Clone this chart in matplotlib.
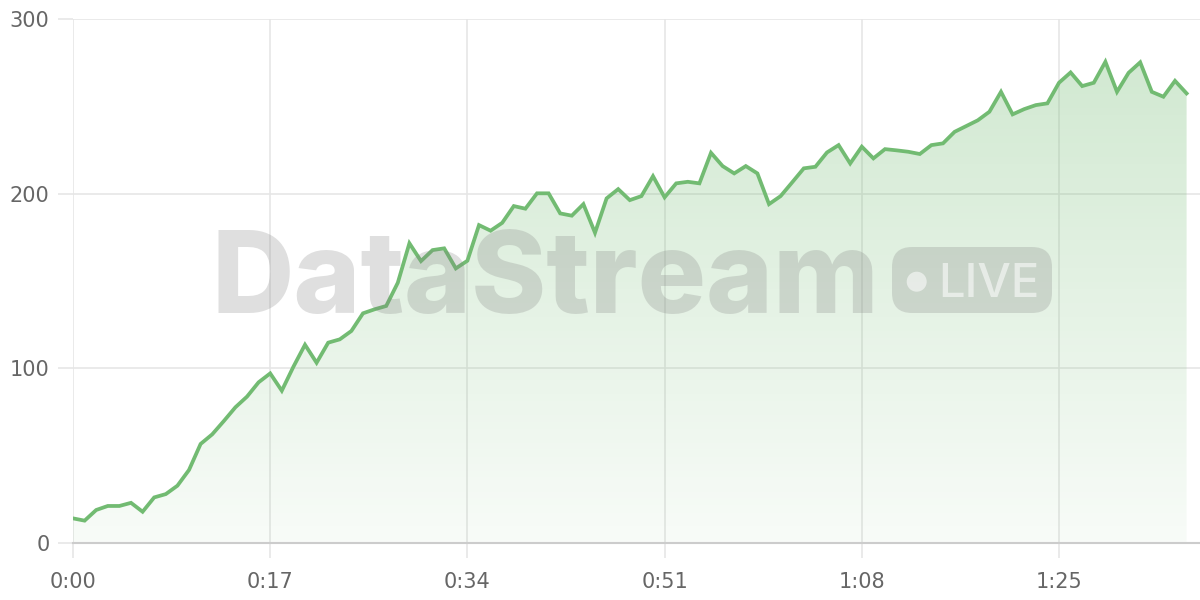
import numpy as np
import matplotlib
matplotlib.use("Agg")
import matplotlib.pyplot as plt
from matplotlib.patches import FancyBboxPatch, Circle
from matplotlib.ticker import FuncFormatter

# values, one per second
seconds = np.arange(0, 97)
values = [
    14.1, 12.8, 18.9, 21.2, 21.2, 23.0, 17.9, 26.1, 28.0, 32.8,
    41.8, 56.7, 62.2, 69.8, 77.7, 83.8, 92.0, 97.1, 87.2, 100.9,
    113.5, 103.2, 114.7, 116.6, 121.4, 131.5, 133.8, 135.7, 149.0, 171.6,
    161.4, 167.7, 168.7, 157.2, 161.6, 182.0, 178.8, 183.3, 192.9, 191.4,
    200.2, 200.2, 188.7, 187.4, 194.0, 177.6, 197.3, 202.6, 196.3, 198.6,
    210.0, 197.9, 205.9, 206.8, 205.9, 223.4, 215.8, 211.6, 215.8, 211.6,
    194.0, 198.6, 206.5, 214.5, 215.4, 223.6, 227.8, 217.3, 226.9, 220.2,
    225.5, 224.8, 224.0, 222.7, 227.8, 228.8, 235.4, 238.7, 242.0, 246.9,
    258.3, 245.4, 248.4, 250.7, 251.7, 263.5, 269.4, 261.6, 263.5, 275.5,
    258.3, 269.2, 275.2, 258.3, 255.5, 264.6, 257.4,
]
x_ticks = [0, 17, 34, 51, 68, 85]
y_ticks = [0, 100, 200, 300]

line_color = "#72bb72"
grid_color = "#e6e6e6"
label_color = "#666666"

fig = plt.figure(figsize=(12, 6), dpi=100)
ax = fig.add_axes([73 / 1200, 57 / 600, 1127 / 1200, 524 / 600])
ax.set_xlim(0, 1127 / 11.6)
ax.set_ylim(0, 300)

# gradient fill under the line
poly = ax.fill_between(seconds, values, 0, color="none", lw=0)
ymax = max(values)
grad = np.zeros((256, 1, 4))
grad[:, 0, 0] = 0.44
grad[:, 0, 1] = 0.73
grad[:, 0, 2] = 0.44
grad[:, 0, 3] = np.linspace(0.32, 0.05, 256)
img = ax.imshow(grad, aspect="auto", extent=[seconds[0], seconds[-1], 0, ymax],
                origin="upper", zorder=1)
img.set_clip_path(poly.get_paths()[0], transform=ax.transData)

ax.plot(seconds, values, color=line_color, lw=2.7, zorder=4,
        solid_joinstyle="miter")

# watermark
wm = (0.5, 0.5, 0.5, 0.25)
fig.text(211 / 1200, (600 - 313) / 600, "DataStream", fontsize=82,
         family=["Inter", "DejaVu Sans"], weight="heavy", color=wm,
         ha="left", va="baseline", zorder=3)
pill = FancyBboxPatch((8.92, 2.87), 1.60, 0.66,
                      boxstyle="round,pad=0,rounding_size=0.2",
                      transform=fig.dpi_scale_trans, fc=wm, ec="none", zorder=3)
fig.patches.append(pill)
dot = Circle((9.167, 3.183), 0.10, transform=fig.dpi_scale_trans,
             fc=(1, 1, 1, 0.55), ec="none", zorder=3)
fig.patches.append(dot)
fig.text(9.38 / 12, 3.03 / 6, "LIVE", fontsize=34,
         family=["Inter", "DejaVu Sans"], weight="medium",
         color=(1, 1, 1, 0.55), ha="left", va="baseline", zorder=3)

# axes styling
for s in ["top", "right", "left"]:
    ax.spines[s].set_visible(False)
ax.spines["bottom"].set_color("#cccccc")
ax.spines["bottom"].set_linewidth(1.5)
ax.spines["bottom"].set_zorder(5)

ax.set_xticks(x_ticks)
ax.set_yticks(y_ticks)
ax.xaxis.set_major_formatter(FuncFormatter(lambda t, p: f"{int(t // 60)}:{int(t % 60):02d}"))
ax.grid(True, color=grid_color, lw=1.2, zorder=0)
ax.set_axisbelow(True)
ax.tick_params(axis="both", length=11, width=1.2, color=grid_color,
               labelcolor=label_color, labelsize=15, pad=6)
ax.tick_params(axis="x", pad=10)

fig.savefig("out.png", dpi=100)
